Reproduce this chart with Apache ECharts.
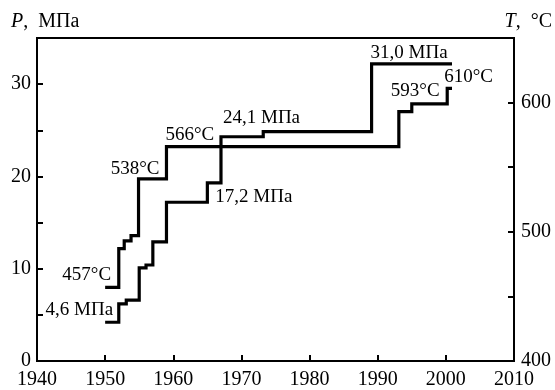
<!DOCTYPE html>
<html>
<head>
<meta charset="utf-8">
<script src="https://cdn.jsdelivr.net/npm/echarts@6/dist/echarts.min.js"></script>
<style>
html, body { margin: 0; padding: 0; background: #fff; }
#main { width: 555px; height: 390px; }
</style>
</head>
<body>
<div id="main"></div>
<script>
// pressure, MPa (left axis)
let pYears = [1950, 1952, 1953.1, 1955, 1956, 1957, 1959, 1965, 1967, 1973.2, 1989.1, 2000.9];
let pValues = [4.2, 6.2, 6.6, 10.1, 10.4, 12.9, 17.2, 19.3, 24.3, 24.85, 32.2, 32.2];
// temperature, °C (right axis)
let tYears = [1950, 1952, 1952.8, 1953.8, 1954.9, 1959, 1993.1, 1995, 2000.2, 2000.9];
let tValues = [457, 487, 493, 497, 541, 566, 593, 599, 611, 611];

// text notes and the point each one sits next to
let pNotes = ['4,6 МПа', '17,2 МПа', '24,1 МПа', '31,0 МПа'];
let pNoteAt = [0, 7, 8, 10];
let tNotes = ['457°C', '538°C', '566°C', '593°C', '610°C'];
let tNoteAt = [0, 4, 5, 6, 8];

let xTickLabels = [1940, 1950, 1960, 1970, 1980, 1990, 2000, 2010];
let pTickLabels = [0, 10, 20, 30];
let tTickLabels = [400, 500, 600];

const serif = '"Liberation Serif", "DejaVu Serif", serif';

let chart = echarts.init(document.getElementById('main'));

let pNoteStyle = [
    { align: 'right', offset: [8, -12] },
    { align: 'left', offset: [8, 14] },
    { align: 'left', offset: [2, -19] },
    { align: 'left', offset: [-1, -11] }
];
let tNoteStyle = [
    { align: 'right', offset: [6, -12] },
    { align: 'right', offset: [21, -10] },
    { align: 'left', offset: [-1, -12] },
    { align: 'left', offset: [-8, -21] },
    { align: 'left', offset: [-3, -11] }
];

function notes(names, at, style, xs, ys) {
    return at.map(function (i, k) {
        return {
            value: [xs[i], ys[i]],
            label: {
                formatter: names[k],
                align: style[k].align,
                offset: style[k].offset
            }
        };
    });
}

function stepLine(xs, ys) {
    return xs.map(function (x, i) { return [x, ys[i]]; });
}

let noteLabel = {
    show: true,
    position: 'inside',
    verticalAlign: 'middle',
    color: '#000',
    opacity: 1,
    textBorderWidth: 0,
    fontFamily: serif,
    fontSize: 19
};

option = {
    animation: false,
    grid: {
        left: 37,
        right: 41,
        top: 38,
        bottom: 25,
        show: true,
        borderColor: '#000',
        borderWidth: 2
    },
    graphic: [
        {
            type: 'text',
            left: 11,
            top: 12,
            style: {
                text: '{i|P},  МПа',
                font: '20px ' + serif,
                fill: '#000',
                rich: { i: { fontStyle: 'italic', fontFamily: serif, fontSize: 20 } }
            }
        },
        {
            type: 'text',
            right: 3,
            top: 12,
            style: {
                text: '{i|T},  °C',
                font: '20px ' + serif,
                fill: '#000',
                rich: { i: { fontStyle: 'italic', fontFamily: serif, fontSize: 20 } }
            }
        }
    ],
    xAxis: {
        type: 'value',
        min: 1940,
        max: 2010,
        interval: 10,
        splitLine: { show: false },
        axisLine: { lineStyle: { color: '#000', width: 2 } },
        axisTick: { inside: true, length: 6, lineStyle: { color: '#000', width: 2 } },
        axisLabel: {
            color: '#000',
            fontFamily: serif,
            fontSize: 20,
            margin: 9,
            formatter: function (v) { return xTickLabels.indexOf(v) >= 0 ? String(v) : ''; }
        }
    },
    yAxis: [
        {
            type: 'value',
            position: 'left',
            min: 0,
            max: 35,
            interval: 5,
            splitLine: { show: false },
            axisLine: { show: true, lineStyle: { color: '#000', width: 2 } },
            axisTick: { show: true, inside: true, length: 6, lineStyle: { color: '#000', width: 2 } },
            axisLabel: {
                color: '#000',
                fontFamily: serif,
                fontSize: 20,
                margin: 6,
                formatter: function (v) { return pTickLabels.indexOf(v) >= 0 ? String(v) : ''; }
            }
        },
        {
            type: 'value',
            position: 'right',
            min: 400,
            max: 650,
            interval: 50,
            splitLine: { show: false },
            axisLine: { show: true, lineStyle: { color: '#000', width: 2 } },
            axisTick: { show: true, inside: true, length: 6, lineStyle: { color: '#000', width: 2 } },
            axisLabel: {
                color: '#000',
                fontFamily: serif,
                fontSize: 20,
                margin: 7,
                formatter: function (v) { return tTickLabels.indexOf(v) >= 0 ? String(v) : ''; }
            }
        }
    ],
    series: [
        {
            name: 'P',
            type: 'line',
            step: 'end',
            yAxisIndex: 0,
            showSymbol: false,
            lineStyle: { color: '#000', width: 3.2, join: 'miter', cap: 'butt' },
            data: stepLine(pYears, pValues)
        },
        {
            name: 'T',
            type: 'line',
            step: 'end',
            yAxisIndex: 1,
            showSymbol: false,
            lineStyle: { color: '#000', width: 3.2, join: 'miter', cap: 'butt' },
            data: stepLine(tYears, tValues)
        },
        {
            type: 'scatter',
            yAxisIndex: 0,
            symbolSize: 0,
            itemStyle: { color: '#000' },
            label: noteLabel,
            data: notes(pNotes, pNoteAt, pNoteStyle, pYears, pValues)
        },
        {
            type: 'scatter',
            yAxisIndex: 1,
            symbolSize: 0,
            itemStyle: { color: '#000' },
            label: noteLabel,
            data: notes(tNotes, tNoteAt, tNoteStyle, tYears, tValues)
        }
    ]
};
chart.setOption(option);
</script>
</body>
</html>
